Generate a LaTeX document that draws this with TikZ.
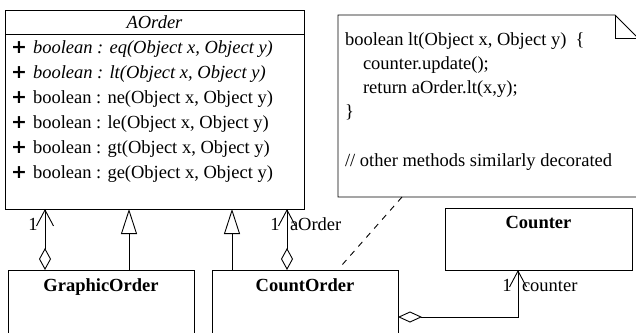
\documentclass[tikz,border=0pt]{standalone}
\usepackage{fontspec}
\setmainfont{Liberation Serif}
\newfontfamily\plusfont{DejaVu Sans}
\usetikzlibrary{arrows.meta,calc}
\begin{document}
\begin{tikzpicture}[x=1pt,y=-1pt,line width=0.9pt,
  box/.style={draw,rectangle,inner sep=0pt,outer sep=0pt},
  txt/.style={inner sep=0pt,outer sep=0pt,font=\fontsize{18.5}{22}\selectfont},
  btxt/.style={txt,font=\fontsize{18.5}{22}\selectfont\bfseries},
  plus/.style={inner sep=0pt,outer sep=0pt,font=\fontsize{19}{22}\selectfont\plusfont\bfseries},
  aggr/.style={{Diamond[open,length=22pt,width=12pt]}-{Straight Barb[length=16pt,width=17pt]}},
  aggrh/.style={{Diamond[open,length=24pt,width=11pt]}-{Straight Barb[length=16pt,width=17pt]}},
  gen/.style={-{Triangle[open,length=25pt,width=16pt]}},
  dep/.style={dash pattern=on 6pt off 6pt}]
\useasboundingbox (0,0) rectangle (636,332);
\clip (0,0) rectangle (636,332);
% AOrder class
\node[box,minimum width=299pt,minimum height=199pt] (ao) at (154.5,109.5) {};
\draw ([yshift=-24pt]ao.north west) -- ([yshift=-24pt]ao.north east);
\node[txt,anchor=base,font=\fontsize{18.5}{22}\selectfont\itshape] (aot) at (154.5,28) {AOrder};
\foreach \i/\t in {0/{\itshape boolean : eq(Object x, Object y)},
                   1/{\itshape boolean : lt(Object x, Object y)},
                   2/{boolean : ne(Object x, Object y)},
                   3/{boolean : le(Object x, Object y)},
                   4/{boolean : gt(Object x, Object y)},
                   5/{boolean : ge(Object x, Object y)}}{
  \node[plus,anchor=base] (p\i) at (19,53+25*\i) {+};
  \node[txt,anchor=base west] (m\i) at (33,53+25*\i) {\t};
}
% Note
\node[minimum width=300pt,minimum height=182pt,inner sep=0pt,outer sep=0pt] (note) at (488,106) {};
\draw (note.south east) -- (note.south west) -- (note.north west) -- ([xshift=-23pt]note.north east) -- ([yshift=-23pt]note.north east) -- (note.south east);
\draw ([xshift=-23pt]note.north east) |- ([yshift=-23pt]note.north east);
\node[txt,anchor=base west] (n1) at (345,45) {boolean lt(Object x, Object y)\ \ \{};
\node[txt,anchor=base west] (n2) at (363,69) {counter.update();};
\node[txt,anchor=base west] (n3) at (363,93) {return aOrder.lt(x,y);};
\node[txt,anchor=base west] (n4) at (345,117) {\}};
\node[txt,anchor=base west] (n5) at (345,166) {// other methods similarly decorated};
% Lower classes
\node[box,minimum width=186pt,minimum height=80pt] (go) at (101,310) {};
\node[btxt,anchor=base] (got) at (101,291) {GraphicOrder};
\node[box,minimum width=186pt,minimum height=80pt] (co) at (305,310) {};
\node[btxt,anchor=base] (cot) at (305,291) {CountOrder};
\node[box,minimum width=187pt,minimum height=62pt] (cnt) at (538.5,239) {};
\node[btxt,anchor=base] (cntt) at (538.5,228) {Counter};
% Connectors
\draw[aggr] ([xshift=37pt]go.north west) -- ([xshift=37pt]go.north west |- ao.south);
\draw[gen] ([xshift=121pt]go.north west) -- ([xshift=121pt]go.north west |- ao.south);
\draw[gen] ([xshift=20pt]co.north west) -- ([xshift=20pt]co.north west |- ao.south);
\draw[aggr] ([xshift=75pt]co.north west) -- ([xshift=75pt]co.north west |- ao.south);
\draw[aggrh] ([yshift=-47pt]co.north east) -| ([xshift=73pt]cnt.south west);
\draw[dep] ([xshift=64pt]note.south west) -- ([xshift=130pt,yshift=5pt]co.north west);
% Labels
\node[txt,anchor=base] (l1) at (33,230) {1};
\node[txt,anchor=base] (l2) at (275,230) {1};
\node[txt,anchor=base west] (l3) at (290,230) {aOrder};
\node[txt,anchor=base] (l4) at (507,291) {1};
\node[txt,anchor=base west] (l5) at (522,291) {counter};
\end{tikzpicture}
\end{document}
